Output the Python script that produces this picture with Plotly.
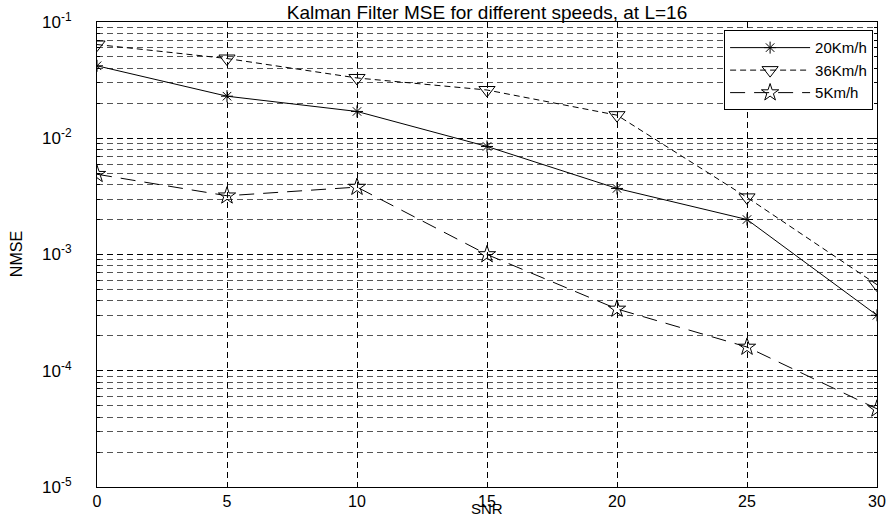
import plotly.graph_objects as go

snr = [0, 5, 10, 15, 20, 25, 30]
nmse_20 = [0.042, 0.023, 0.017, 0.0085, 0.0037, 0.002, 0.0003]
nmse_36 = [0.064, 0.0485, 0.033, 0.026, 0.0158, 0.0031, 0.00055]
nmse_5 = [0.0049, 0.0032, 0.0038, 0.001, 0.00034, 0.00016, 0.000047]
names = ["20Km/h", "36Km/h", "5Km/h"]
x_ticks = [0, 5, 10, 15, 20, 25, 30]
y_decades = [-5, -4, -3, -2, -1]

font = "Liberation Sans, Arial, sans-serif"

fig = go.Figure()
fig.add_trace(go.Scatter(x=snr, y=nmse_20, name=names[0], mode="lines+markers",
                         line=dict(color="black", width=1, dash="solid"),
                         marker=dict(symbol="asterisk-open", size=10, color="black",
                                     line=dict(color="black", width=1))))
fig.add_trace(go.Scatter(x=snr, y=nmse_36, name=names[1], mode="lines+markers",
                         line=dict(color="black", width=1, dash="6px,4px"),
                         marker=dict(symbol="triangle-down-open", size=14, color="black",
                                     line=dict(color="black", width=1))))
fig.add_trace(go.Scatter(x=snr, y=nmse_5, name=names[2], mode="lines+markers",
                         line=dict(color="black", width=1, dash="15px,9px"),
                         marker=dict(symbol="star-open", size=13, color="black",
                                     line=dict(color="black", width=1))))

major_y = [10 ** d for d in y_decades]
minor_y = [m * 10 ** d for d in y_decades[:-1] for m in range(2, 10)]
tick_text = ["10<sup>%d</sup>" % d for d in y_decades]

fig.update_layout(
    width=894, height=516,
    margin=dict(l=97, r=17, t=22, b=29),
    paper_bgcolor="white", plot_bgcolor="white",
    font=dict(family=font, size=18, color="black"),
    title=dict(text="Kalman Filter MSE for different speeds, at L=16",
               xref="paper", x=0.5, xanchor="center",
               yref="container", y=0.977, yanchor="middle",
               font=dict(size=19, family=font, color="black")),
    showlegend=True,
    legend=dict(x=0.995, xanchor="right", y=0.982, yanchor="top",
                bordercolor="black", borderwidth=1, bgcolor="white",
                font=dict(size=15, family=font), itemwidth=80,
                tracegroupgap=0),
    annotations=[
        dict(text="SNR", xref="paper", yref="paper", x=0.5, y=-0.068,
             xanchor="center", yanchor="bottom", showarrow=False,
             font=dict(size=15, family=font)),
        dict(text="NMSE", xref="paper", yref="paper", x=-0.103, y=0.5,
             xanchor="center", yanchor="middle", showarrow=False, textangle=-90,
             font=dict(size=16, family=font)),
    ],
)
fig.update_xaxes(
    range=[0, 30], tickmode="array", tickvals=x_ticks,
    ticks="inside", ticklen=5, tickcolor="black", mirror="ticks",
    showline=True, linecolor="black", linewidth=1,
    showgrid=True, gridcolor="black", gridwidth=1, griddash="6px,4px",
    zeroline=False,
    tickfont=dict(size=16),
    automargin=False,
)
fig.update_yaxes(
    type="log", range=[-5, -1], tickmode="array", tickvals=major_y, ticktext=tick_text,
    ticks="inside", ticklen=5, tickcolor="black", mirror="ticks",
    showline=True, linecolor="black", linewidth=1,
    showgrid=True, gridcolor="black", gridwidth=1, griddash="6px,4px",
    zeroline=False,
    tickfont=dict(size=17), ticklabelstandoff=21,
    minor=dict(tickmode="array", tickvals=minor_y, ticks="inside", ticklen=3,
               tickcolor="black", showgrid=True, gridcolor="#555555",
               gridwidth=1, griddash="6px,4px"),
    automargin=False,
)

fig.write_html("out.html", config={"displayModeBar": False},
               post_script="document.body.style.margin='0';")
